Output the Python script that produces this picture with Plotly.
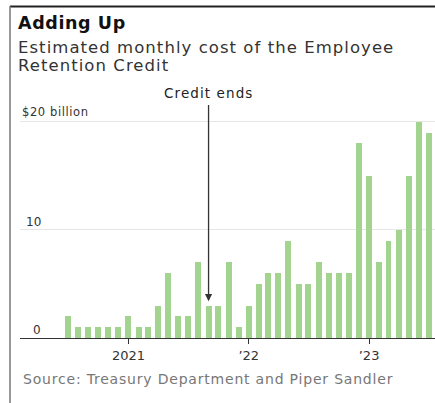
import plotly.graph_objects as go

# Data
months = [
    "2020-07-01", "2020-08-01", "2020-09-01", "2020-10-01", "2020-11-01", "2020-12-01",
    "2021-01-01", "2021-02-01", "2021-03-01", "2021-04-01", "2021-05-01", "2021-06-01",
    "2021-07-01", "2021-08-01", "2021-09-01", "2021-10-01", "2021-11-01", "2021-12-01",
    "2022-01-01", "2022-02-01", "2022-03-01", "2022-04-01", "2022-05-01", "2022-06-01",
    "2022-07-01", "2022-08-01", "2022-09-01", "2022-10-01", "2022-11-01", "2022-12-01",
    "2023-01-01", "2023-02-01", "2023-03-01", "2023-04-01", "2023-05-01", "2023-06-01",
    "2023-07-01",
]
cost_billions = [
    2, 1, 1, 1, 1, 1,
    2, 1, 1, 3, 6, 2, 2, 7, 3, 3, 7, 1,
    3, 5, 6, 6, 9, 5, 5, 7, 6, 6, 6, 18,
    15, 7, 9, 10, 15, 20, 19,
]
tick_vals = ["2021-01-01", "2022-01-01", "2023-01-01"]
tick_text = ["2021", "\u201922", "\u201923"]
y_ticks = [0, 10, 20]
y_tick_text = ["0", "10", "$20 billion"]

FONT = "DejaVu Sans"
W, H = 435, 403
L, R, T, B = 20, 0, 111, 65
PW, PH = W - L - R, H - T - B


def px(x):
    return (x - L) / PW


def py(y):
    return (H - B - y) / PH


def spaced(t, ls):
    return f'<span style="letter-spacing:{ls}px">{t}</span>'


fig = go.Figure()
fig.add_trace(go.Bar(
    x=months, y=cost_billions,
    marker=dict(color="#a2d490", line=dict(width=0)),
    width=18 * 86400000,
    hoverinfo="x+y",
))

annotations = []
# title/subtitle
annotations.append(dict(text="<b>" + spaced("Adding Up", 0.6) + "</b>", x=px(16), y=py(23),
                        xref="paper", yref="paper",
                        xanchor="left", yanchor="middle", showarrow=False,
                        font=dict(family=FONT, size=17.5, color="#111")))
annotations.append(dict(text=spaced("Estimated monthly cost of the Employee", 1.05), x=px(16), y=py(47),
                        xref="paper", yref="paper", xanchor="left", yanchor="middle", showarrow=False,
                        font=dict(family=FONT, size=16.5, color="#333")))
annotations.append(dict(text=spaced("Retention Credit", 1.05), x=px(16), y=py(65),
                        xref="paper", yref="paper", xanchor="left", yanchor="middle", showarrow=False,
                        font=dict(family=FONT, size=16.5, color="#333")))
annotations.append(dict(text=spaced("Source: Treasury Department and Piper Sandler", 0.8), x=px(21), y=py(379),
                        xref="paper", yref="paper", xanchor="left", yanchor="middle", showarrow=False,
                        font=dict(family=FONT, size=14, color="#777")))
# y labels
for v, t in zip(y_ticks, y_tick_text):
    if v == 20:
        annotations.append(dict(text=spaced(t, 0.6), x=px(20), y=v, xref="paper", yref="y",
                                xanchor="left", yanchor="bottom", yshift=1, showarrow=False,
                                font=dict(family=FONT, size=11.5, color="#333")))
    else:
        annotations.append(dict(text=t, x=px(43), y=v, xref="paper", yref="y",
                                xanchor="right", yanchor="bottom", yshift=-1, showarrow=False,
                                font=dict(family=FONT, size=12, color="#333")))
# credit ends
annotations.append(dict(text=spaced("Credit ends", 1.1), x="2021-09-01", y=py(93), xref="x", yref="paper",
                        xanchor="center", yanchor="middle", showarrow=False,
                        font=dict(family=FONT, size=13.5, color="#222")))
annotations.append(dict(text="", x="2021-09-01", y=3.4, xref="x", yref="y",
                        ax="2021-09-01", ay=21.7, axref="x", ayref="y",
                        showarrow=True, arrowhead=2, arrowsize=1.1, arrowwidth=1.3,
                        arrowcolor="#333"))

shapes = [
    dict(type="line", xref="paper", yref="paper", x0=px(10), x1=px(435), y0=py(6.5), y1=py(6.5),
         line=dict(color="#222", width=2)),
    dict(type="line", xref="paper", yref="paper", x0=px(10), x1=px(10), y0=py(6), y1=py(403),
         line=dict(color="#777", width=1.5)),
]

fig.update_layout(
    width=W, height=H,
    margin=dict(l=L, r=R, t=T, b=B, pad=0),
    plot_bgcolor="white", paper_bgcolor="white",
    showlegend=False,
    bargap=0,
    annotations=annotations,
    shapes=shapes,
    xaxis=dict(
        type="date",
        range=["2020-02-07", "2023-07-20"],
        tickvals=tick_vals, ticktext=tick_text,
        ticks="outside", ticklen=5, tickwidth=1.2, tickcolor="#333",
        showline=True, linecolor="#333", linewidth=1.2,
        showgrid=False, zeroline=False,
        tickfont=dict(family=FONT, size=13, color="#333"),
    ),
    yaxis=dict(
        range=[0, 21],
        tickvals=y_ticks, showticklabels=False,
        showgrid=True, gridcolor="#e6e6e6", gridwidth=1,
        zeroline=False, showline=False, ticks="",
    ),
)

fig.write_html("out.html")
